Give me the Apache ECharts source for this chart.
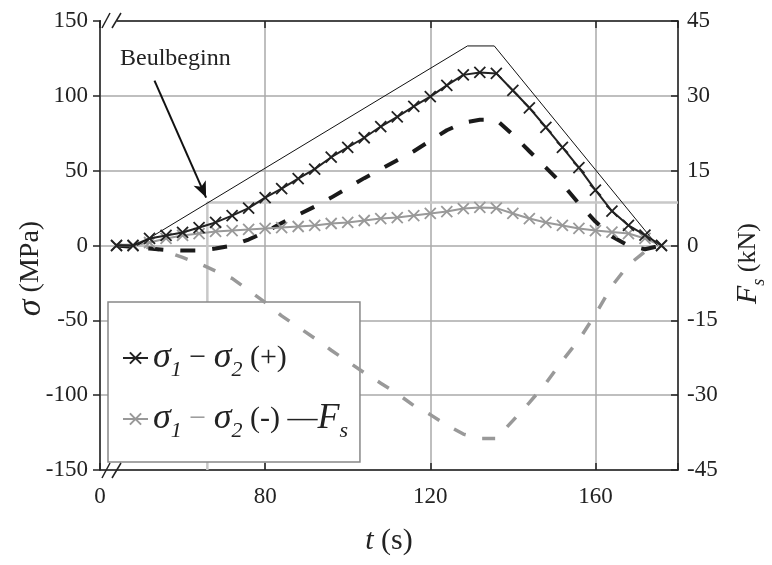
<!DOCTYPE html>
<html>
<head>
<meta charset="utf-8">
<script src="https://cdn.jsdelivr.net/npm/echarts@6/dist/echarts.min.js"></script>
<style>html,body{margin:0;padding:0;background:#fff}#c{width:772px;height:565px}</style>
</head>
<body>
<div id="c"></div>
<script>
// time samples (s)
const tVals = [44,48,52,56,60,64,68,72,76,80,84,88,92,96,100,104,108,112,116,120,124,128,132,136,140,144,148,152,156,160,164,168,172,176];
// sigma1 - sigma2 (+), MPa
const plusVals = [0,0,4.7,6.7,8.7,12,15.4,20,25,32,38,44.7,51,59,65.5,72,79.5,86,93,99.5,107,114,115.6,115,103.6,92,79,65.5,52,37,23,13.4,7,0];
// sigma1 - sigma2 (-), MPa
const minusVals = [0,0,2,4.7,6.7,8,9.4,10,10.7,11.4,12,12.7,13.4,14.7,15.4,16.7,18,18.7,20,21.4,22.7,24.7,25.4,25,21.4,18,15.4,13.4,11.4,10,9,8,4.7,0];
// dashed black curve, MPa
const dashBlackVals = [0,-1,-2,-3,-3.3,-3.3,-2,0,4,9,15,20.5,26,32,38.5,45,51,57,63,70,77,82,84,84,74,63,52,41,28,16,6,0,-2.5,0];
// dashed gray curve, MPa
const dashGrayVals = [0,0,-1.5,-4,-8,-12,-17,-22,-30,-38,-47,-54.5,-62,-70,-77.5,-85,-92,-99,-107,-113,-120,-126,-129,-129,-117,-105,-92,-77,-63,-46,-27,-13,-4,0];
// F_s (kN), thin line
const fsT = [49,129,135.5,175];
const fsVals = [0,40,40,0];
// Beulbeginn marker
const beulT = 66;
const beulSigma = 28.7;
const arrowFrom = [53.2,110.2];
const arrowTo = [65.7,32];
// ticks
const xTickLabels = {40:'0',80:'80',120:'120',160:'160'};
const yLeftTicks = [-150,-100,-50,0,50,100,150];
const yRightTicks = [-45,-30,-15,0,15,30,45];

const FF = 'Liberation Serif';
const pair = (xs, ys) => xs.map((x,i)=>[x, ys[i]]);
const cross = 'path://M0,0L10,10M10,0L0,10';

const chart = echarts.init(document.getElementById('c'), null, {renderer:'canvas'});
const subRich = {
  i:{fontFamily:FF,fontStyle:'italic',fontSize:36,lineHeight:46,verticalAlign:'middle',color:'#222'},
  sub:{fontFamily:FF,fontStyle:'italic',fontSize:22,verticalAlign:'bottom',color:'#222'},
  t:{fontFamily:FF,fontSize:30,lineHeight:46,verticalAlign:'middle',color:'#222'},
  g:{fontFamily:FF,fontSize:30,lineHeight:46,verticalAlign:'middle',color:'#999'}
};
const legendText = {
  plus:'{i|σ}{sub|1}{t| − }{i|σ}{sub|2}{t| (+)}',
  minus:'{i|σ}{sub|1}{g| − }{i|σ}{sub|2}{t| (-) —}{i|F}{sub|s}'
};

chart.setOption({
  animation:false,
  backgroundColor:'#fff',
  grid:{left:100,right:94,top:21,bottom:95,outerBoundsMode:'none',containLabel:false},
  legend:{
    data:['plus','minus'],
    orient:'vertical', left:108, top:302, z:2,
    itemWidth:25, itemHeight:14, itemGap:20,
    padding:[38,12,20,14],
    backgroundColor:'#fff', borderColor:'#888', borderWidth:1.5, borderRadius:0,
    formatter:n=>legendText[n],
    textStyle:{rich:subRich}
  },
  xAxis:[{
    type:'value', min:40, max:180, interval:40, position:'bottom',
    name:'{i|t}{t| (s)}', nameLocation:'middle', nameGap:56, nameMoveOverlap:false,
    nameTextStyle:{rich:{i:{fontFamily:FF,fontStyle:'italic',fontSize:30,color:'#222'},t:{fontFamily:FF,fontSize:30,color:'#222'}}},
    axisLine:{onZero:false,lineStyle:{color:'#222',width:1.5}},
    axisTick:{inside:true,length:7,lineStyle:{color:'#222',width:1.5}},
    axisLabel:{formatter:v=>xTickLabels[v]||'',fontFamily:FF,fontSize:23,color:'#222',margin:15},
    splitLine:{show:true,lineStyle:{color:'#aaa',width:1.5}}
  },{
    type:'value', min:40, max:180, interval:40, position:'top',
    axisLine:{onZero:false,lineStyle:{color:'#222',width:1.5}},
    axisTick:{inside:true,length:7,lineStyle:{color:'#222',width:1.5}},
    axisLabel:{show:false}, splitLine:{show:false}
  }],
  yAxis:[{
    type:'value', min:-150, max:150, interval:50, position:'left',
    name:'{i|σ}{t| (MPa)}', nameLocation:'middle', nameGap:52, nameMoveOverlap:false,
    nameTextStyle:{padding:[0,46,0,0],rich:{i:{fontFamily:FF,fontStyle:'italic',fontSize:34,color:'#222'},t:{fontFamily:FF,fontSize:28,color:'#222'}}},
    axisLine:{show:true,onZero:false,lineStyle:{color:'#222',width:1.5}},
    axisTick:{show:true,inside:false,length:7,lineStyle:{color:'#222',width:1.5}},
    axisLabel:{formatter:v=>yLeftTicks.includes(v)?String(v):'',fontFamily:FF,fontSize:23,color:'#222',margin:12},
    splitLine:{show:true,lineStyle:{color:'#aaa',width:1.5}}
  },{
    type:'value', min:-45, max:45, interval:15, position:'right',
    name:'{i|F}{sub|s}{t| (kN)}', nameLocation:'middle', nameGap:50, nameMoveOverlap:false,
    nameTextStyle:{padding:[0,36,0,0],rich:{
      i:{fontFamily:FF,fontStyle:'italic',fontSize:30,lineHeight:40,verticalAlign:'middle',color:'#222'},
      sub:{fontFamily:FF,fontStyle:'italic',fontSize:18,verticalAlign:'bottom',color:'#222'},
      t:{fontFamily:FF,fontSize:26,lineHeight:40,verticalAlign:'middle',color:'#222'}}},
    axisLine:{show:true,onZero:false,lineStyle:{color:'#222',width:1.5}},
    axisTick:{show:true,inside:true,length:7,lineStyle:{color:'#222',width:1.5}},
    axisLabel:{formatter:v=>yRightTicks.includes(v)?String(v):'',fontFamily:FF,fontSize:23,color:'#222',margin:9},
    splitLine:{show:false}
  }],
  series:[
    {name:'beul',type:'line',z:1,silent:true,symbol:'none',
     data:[[180,beulSigma],[beulT,beulSigma],[beulT,-150]],
     lineStyle:{color:'#c8c8c8',width:2.5}},
    {name:'dashGray',type:'line',z:3,symbol:'none',data:pair(tVals,dashGrayVals),
     lineStyle:{color:'#999',width:3.5,type:[13,17]}},
    {name:'dashBlack',type:'line',z:3,symbol:'none',data:pair(tVals,dashBlackVals),
     lineStyle:{color:'#1a1a1a',width:4,type:[15,17]}},
    {name:'minus',type:'line',z:4,symbol:cross,symbolSize:11,data:pair(tVals,minusVals),
     lineStyle:{color:'#999',width:2},
     itemStyle:{color:'#999',borderColor:'#999',borderWidth:1.8}},
    {name:'plus',type:'line',z:5,symbol:cross,symbolSize:11,data:pair(tVals,plusVals),
     lineStyle:{color:'#222',width:2},
     itemStyle:{color:'#222',borderColor:'#222',borderWidth:1.8}},
    {name:'Fs',type:'line',z:5,yAxisIndex:1,symbol:'none',data:pair(fsT,fsVals),
     lineStyle:{color:'#111',width:1},
     markLine:{silent:true,symbol:['none','arrow'],symbolSize:[10,16],label:{show:false},
       lineStyle:{color:'#111',width:2,type:'solid'},
       data:[[{coord:[arrowFrom[0],arrowFrom[1]*0.3]},{coord:[arrowTo[0],arrowTo[1]*0.3]}]]}}
  ],
  graphic:[
    {type:'text',left:120,top:47,z:10,style:{text:'Beulbeginn',font:'24px "Liberation Serif"',fill:'#222'}},
    {type:'rect',shape:{x:101,y:18,width:16,height:6},style:{fill:'#fff'},z:10},
    {type:'line',shape:{x1:102,y1:28,x2:110,y2:13},style:{stroke:'#222',lineWidth:1.5},z:10},
    {type:'line',shape:{x1:112,y1:28,x2:121,y2:13},style:{stroke:'#222',lineWidth:1.5},z:10},
    {type:'line',shape:{x1:102,y1:478,x2:110,y2:463},style:{stroke:'#222',lineWidth:1.5},z:10},
    {type:'line',shape:{x1:112,y1:478,x2:121,y2:463},style:{stroke:'#222',lineWidth:1.5},z:10}
  ]
});
</script>
</body>
</html>
